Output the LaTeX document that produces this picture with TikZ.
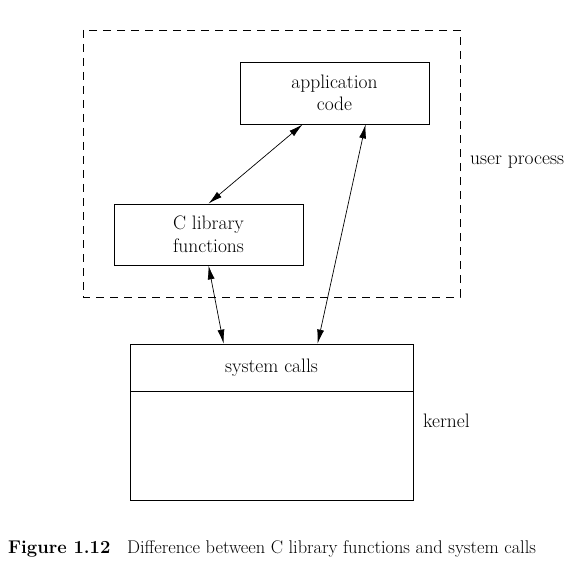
\documentclass[tikz,border=0pt]{standalone}
\usetikzlibrary{arrows.meta}
\begin{document}
\begin{tikzpicture}[x=1pt,y=-1pt,
  every node/.style={font=\fontsize{19.5}{22.5}\selectfont},
  boxnode/.style={draw,line width=0.8pt,inner sep=0pt,align=center},
  conn/.style={line width=0.7pt,{Latex[length=14pt,width=7pt]}-{Latex[length=14pt,width=7pt]}},
  lbl/.style={anchor=west,inner sep=0pt}]
\useasboundingbox (0,0) rectangle (567,564);
\draw[line width=0.8pt,dash pattern=on 8pt off 6pt] (83,30) rectangle (460,297);
\node[boxnode,minimum width=189pt,minimum height=62pt] (app) at (334.5,93) {application\\code};
\node[boxnode,minimum width=189pt,minimum height=61pt] (clib) at (208.5,234.5) {C library\\functions};
\node[boxnode,minimum width=283pt,minimum height=47pt] (sys) at (271.5,367.5) {system calls};
\node[boxnode,minimum width=283pt,minimum height=109pt,anchor=north] (kern) at (sys.south) {};
\node[lbl] (up) at (470,162) {user process};
\node[lbl] (kl) at (423,421) {kernel};
\draw[conn] ([xshift=63pt]app.south west) -- (clib.north);
\draw[conn] ([xshift=126pt]app.south west) -- ([xshift=188pt]sys.north west);
\draw[conn] (clib.south) -- ([xshift=94pt]sys.north west);
\node[lbl,font=\fontsize{18.4}{21}\selectfont] (cap) at (8,549) {\textbf{Figure 1.12}\hspace{0.9em}Difference between C library functions and system calls};
\end{tikzpicture}
\end{document}
